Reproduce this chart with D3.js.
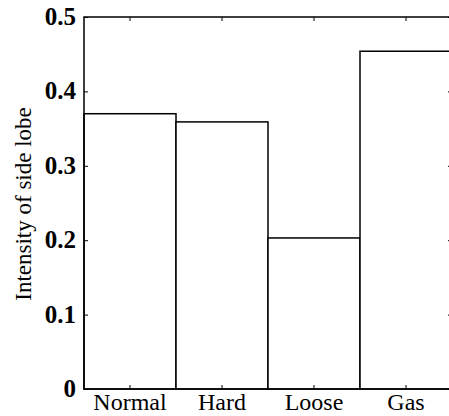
<!DOCTYPE html>
<html lang="en">
  <head>
    <title>Side lobe intensity</title>
    <script type="text/javascript" src="https://d3js.org/d3.v7.min.js"></script>
    <style>
      body { margin: 0; background: #fff; }
      text { font-family: "Liberation Serif", "Times New Roman", serif; fill: #000; }
    </style>
  </head>

  <body>
    <div id="my_dataviz"></div>

    <script>
      // data
      const categories = ["Normal", "Hard", "Loose", "Gas"];
      const values = [0.370, 0.359, 0.203, 0.454];
      const yTicks = [0, 0.1, 0.2, 0.3, 0.4, 0.5];
      const yTickLabels = ["0", "0.1", "0.2", "0.3", "0.4", "0.5"];
      const yLabel = "Intensity of side lobe";

      // plot box, right edge runs just past the window
      let margin = {top: 17, right: -3, bottom: 27, left: 84},
      width = 449 - margin.left - margin.right,
      height = 416 - margin.top - margin.bottom;

      let svg = d3.select("#my_dataviz")
        .append("svg")
          .attr("width", 449)
          .attr("height", 416)
        .append("g")
          .attr("transform", "translate(" + margin.left + "," + margin.top + ")");

      let x = d3.scaleBand()
        .domain(categories)
        .range([0, width])
        .padding(0);

      let y = d3.scaleLinear()
        .domain([0, 0.5])
        .range([height, 0]);

      // bars
      svg.selectAll(".bar")
        .data(categories)
        .enter()
        .append("rect")
          .attr("class", "bar")
          .attr("x", d => x(d))
          .attr("y", (d, i) => y(values[i]))
          .attr("width", x.bandwidth())
          .attr("height", (d, i) => height - y(values[i]))
          .attr("fill", "#fff")
          .attr("stroke", "#000")
          .attr("stroke-width", 1.5);

      // left axis, ticks pointing inward
      let yAxis = svg.append("g")
        .call(d3.axisLeft(y).tickValues(yTicks).tickSizeInner(-4).tickSizeOuter(0)
          .tickPadding(8).tickFormat((d, i) => yTickLabels[i]));
      yAxis.select(".domain").remove();
      yAxis.selectAll("line").attr("stroke", "#000").attr("stroke-width", 1);
      yAxis.selectAll("text")
        .attr("font-size", 25)
        .attr("font-weight", "bold")
        .attr("dy", "0.3em");

      // right axis ticks
      let yAxisR = svg.append("g")
        .attr("transform", "translate(" + width + ",0)")
        .call(d3.axisRight(y).tickValues(yTicks).tickSizeInner(-4).tickSizeOuter(0).tickFormat(""));
      yAxisR.select(".domain").remove();

      // bottom axis
      let xAxis = svg.append("g")
        .attr("transform", "translate(0," + height + ")")
        .call(d3.axisBottom(x).tickSizeInner(-4).tickSizeOuter(0).tickPadding(4));
      xAxis.select(".domain").remove();
      xAxis.selectAll("text")
        .attr("font-size", 24)
        .attr("dy", "0.71em");

      // top axis ticks
      let xAxisT = svg.append("g")
        .call(d3.axisTop(x).tickSizeInner(-4).tickSizeOuter(0).tickFormat(""));
      xAxisT.select(".domain").remove();

      // frame
      svg.append("rect")
        .attr("width", width)
        .attr("height", height)
        .attr("fill", "none")
        .attr("stroke", "#000")
        .attr("stroke-width", 1.5);

      // y label
      svg.append("text")
        .attr("transform", "rotate(-90)")
        .attr("x", -(y(0.25) + 1))
        .attr("y", -53)
        .attr("text-anchor", "middle")
        .attr("font-size", 23)
        .text(yLabel);
    </script>
  </body>
</html>
